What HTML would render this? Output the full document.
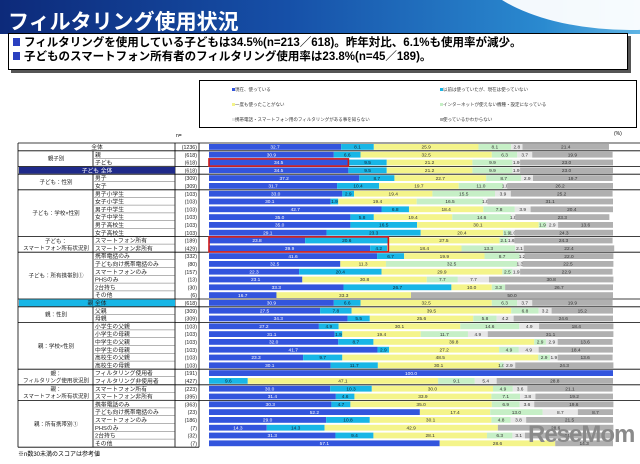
<!DOCTYPE html>
<html><head><meta charset="utf-8">
<style>
body{margin:0;width:640px;height:459px;overflow:hidden;background:#fff;font-family:"Liberation Sans","Noto Sans CJK JP",sans-serif;position:relative}
.abs{position:absolute}
</style></head><body>
<div class="abs" style="left:0;top:0;width:640px;height:34px;background:linear-gradient(90deg,#0d2a7a 0%,#1650a8 45%,#2a8ad0 85%,#5fb4e4 100%);overflow:hidden">
  <div class="abs" style="left:470px;top:-120px;width:320px;height:150px;border-radius:50%;background:#fff;opacity:.95"></div>
  <div class="abs" style="left:8px;top:6px;color:#fff;font-size:21px;font-weight:bold;letter-spacing:0px">フィルタリング使用状況</div>
</div>
<div class="abs" style="left:8px;top:33px;width:618px;height:33px;border:1px solid #000;box-shadow:3px 3px 0 #555;background:#fff;font-size:11.5px;font-weight:bold;line-height:14px;padding-top:2px">
  <div style="padding-left:4px"><span style="display:inline-block;width:7px;height:8px;background:#2a40c0;margin-right:4px"></span>フィルタリングを使用している子どもは34.5%(n=213／618)。昨年対比、6.1%も使用率が減少。</div>
  <div style="padding-left:4px"><span style="display:inline-block;width:7px;height:8px;background:#2a40c0;margin-right:4px"></span>子どものスマートフォン所有者のフィルタリング使用率は23.8%(n=45／189)。</div>
</div>
<div class="abs" style="left:199px;top:80px;width:436px;height:46px;border:1px solid #000;font-size:4.5px;color:#333">
  <div class="abs" style="left:32px;top:6px"><span style="display:inline-block;width:3px;height:3px;background:#3355dd"></span>現在、使っている</div>
  <div class="abs" style="left:240px;top:6px"><span style="display:inline-block;width:3px;height:3px;background:#18b6e6"></span>以前は使っていたが、現在は使っていない</div>
  <div class="abs" style="left:32px;top:21px"><span style="display:inline-block;width:3px;height:3px;background:#f4f48a"></span>一度も使ったことがない</div>
  <div class="abs" style="left:240px;top:21px"><span style="display:inline-block;width:3px;height:3px;background:#c6efc6"></span>インターネットが使えない機種・設定になっている</div>
  <div class="abs" style="left:32px;top:36px"><span style="display:inline-block;width:3px;height:3px;background:#e6e6e6"></span>携帯電話・スマートフォン用のフィルタリングがある事を知らない</div>
  <div class="abs" style="left:240px;top:36px"><span style="display:inline-block;width:3px;height:3px;background:#b0b0b0"></span>使っているかわからない</div>
</div>
<div class="abs" style="left:176px;top:133px;font-size:5px">n=</div>
<div class="abs" style="left:614px;top:131px;font-size:5px">(%)</div>
<div id="chart" class="abs" style="left:0;top:0;width:640px;height:459px"></div>
<div class="abs" style="left:18px;top:449px;font-size:6px">※n数30未満のスコアは参考値</div>
<div class="abs" style="left:528px;top:421px;font-size:24px;font-weight:bold;color:#8a8a8a;letter-spacing:-1px">ReseMom</div>
<script>
const labels=["全体","親","子ども","子ども 全体","男子","女子","男子小学生","女子小学生","男子中学生","女子中学生","男子高校生","女子高校生","スマートフォン所有","スマートフォン非所有","携帯電話のみ","子ども向け携帯電話のみ","スマートフォンのみ","PHSのみ","2台持ち","その他","親 全体","父親","母親","小学生の父親","小学生の母親","中学生の父親","中学生の母親","高校生の父親","高校生の母親","フィルタリング使用者","フィルタリング非使用者","スマートフォン所有","スマートフォン非所有","携帯電話のみ","子ども向け携帯電話のみ","スマートフォンのみ","PHSのみ","2台持ち","その他"];
const nValues=[1236,618,618,618,309,309,103,103,103,103,103,103,189,429,332,80,157,13,30,6,618,309,309,103,103,103,103,103,103,191,427,223,395,363,23,186,7,32,7];
const usingNow=[32.7,30.9,34.5,34.5,37.2,31.7,33.0,30.1,42.7,35.0,35.0,29.1,23.8,39.9,41.6,32.5,22.3,23.1,33.3,16.7,30.9,27.5,34.3,27.2,31.1,32.0,41.7,23.3,30.1,100,0,30.0,31.4,30.3,52.2,29.0,14.3,31.3,57.1];
const usedBefore=[8.1,6.6,9.5,9.5,8.7,10.4,2.9,1.9,6.8,5.8,16.5,23.3,20.6,4.2,6.7,0,20.4,0,26.7,0,6.6,7.8,5.5,4.9,1.9,8.7,2.9,9.7,11.7,0,9.6,10.3,4.6,4.7,0,10.8,14.3,9.4,0];
const neverUsed=[25.9,32.5,21.2,21.2,22.7,19.7,19.4,19.4,18.4,19.4,30.1,20.4,27.5,18.4,19.9,11.3,29.9,30.8,10.0,33.3,32.5,39.5,25.6,30.1,19.4,39.8,27.2,48.5,30.1,0,47.1,30.0,33.9,35.0,17.4,30.1,42.9,28.1,28.6];
const noInternet=[8.1,6.3,9.9,9.9,8.7,11.0,15.5,16.5,7.8,14.6,1.9,1.9,2.1,13.3,8.7,32.5,2.5,7.7,3.3,0,6.3,6.8,5.8,14.6,11.7,2.9,4.9,2.9,1.0,0,9.1,4.9,7.1,6.9,13.0,4.8,0,6.3,0];
const notAware=[2.8,3.7,1.9,1.9,2.9,1.0,3.9,1.0,3.9,1.0,2.9,1.0,1.6,2.1,1.2,1.3,1.9,7.7,0,0,3.7,3.2,4.2,4.9,4.9,2.9,4.9,1.9,2.9,0,5.4,3.6,3.8,3.6,8.7,3.8,0,3.1,0];
const dontKnow=[21.4,19.9,23.0,23.0,19.7,26.2,25.2,31.1,20.4,23.3,13.6,24.3,24.3,22.4,22.0,22.5,22.9,30.8,26.7,50.0,19.9,15.2,24.6,18.4,31.1,13.6,18.4,13.6,24.3,0,28.8,21.1,19.2,19.6,8.7,21.5,28.6,21.9,14.3];
const groups=[[1,2,"親子別"],[4,5,"子ども：性別"],[6,11,"子ども：学校×性別"],[12,13,"子ども：\nスマートフォン所有状況別"],[14,19,"子ども：所有携帯別①"],[21,22,"親：性別"],[23,28,"親：学校×性別"],[29,30,"親：\nフィルタリング使用状況別"],[31,32,"親：\nスマートフォン所有状況別"],[33,38,"親：所有携帯別①"]];
const series=[usingNow,usedBefore,neverUsed,noInternet,notAware,dontKnow];
const colors=["#3355dd","#18b6e6","#f4f48a","#c6efc6","#e6e6e6","#b0b0b0"];
const txtCol=["#fff","#123","#333","#333","#333","#333"];
const X0=209,W=404,Y0=143,RH=7.8;
const xs=v=>v/100*W;
const ys=i=>Y0+i*RH;
const NS="http://www.w3.org/2000/svg";
const svg=document.createElementNS(NS,"svg");
svg.setAttribute("width","640");svg.setAttribute("height","459");


document.getElementById("chart").appendChild(svg);
function mk(t,a){const e=document.createElementNS(NS,t);for(const k in a)e.setAttribute(k,a[k]);svg.appendChild(e);return e;}
// table lines
const tb=Y0+labels.length*RH;
mk("line",{x1:18,y1:Y0,x2:18,y2:tb,stroke:"#000","stroke-width":0.8});
mk("line",{x1:175,y1:Y0,x2:175,y2:tb,stroke:"#000","stroke-width":0.8});
mk("line",{x1:199,y1:Y0,x2:199,y2:tb,stroke:"#000","stroke-width":0.8});
mk("line",{x1:18,y1:tb,x2:199,y2:tb,stroke:"#000","stroke-width":0.8});
// header rows
const h1=mk("rect",{x:19,y:ys(3)+0.5,width:156,height:RH-1,fill:"#1f2a8a"});

const h2=mk("rect",{x:19,y:ys(20)+0.5,width:156,height:RH-1,fill:"#18b6e6"});

const sepRows=[0,1,3,4,6,12,14,20,21,23,29,31,33];
sepRows.forEach(r=>{const l=mk("line",{x1:18,y1:ys(r),x2:640,y2:ys(r),stroke:"#000","stroke-width":0.8});});
groups.forEach(g=>{
  mk("line",{x1:93,y1:ys(g[0]),x2:93,y2:ys(g[1]+1),stroke:"#000","stroke-width":0.8});
  const lines=g[2].split("\n");const cy=(ys(g[0])+ys(g[1]+1))/2;
  lines.forEach((s,k)=>{const t=mk("text",{x:56,y:cy+2+(k-(lines.length-1)/2)*7,"font-size":5.5,"text-anchor":"middle",fill:"#222"});t.textContent=s;
  
  });
});
labels.forEach((lab,i)=>{
  const y=ys(i);
  const full=(i===0||i===3||i===20);
  if(!full){mk("line",{x1:94,y1:y+RH-0.3,x2:175,y2:y+RH-0.3,stroke:"#444","stroke-width":0.4});}
  const t=mk("text",{x:full?97:95,y:y+6,"font-size":5.8,"text-anchor":full?"middle":"start",fill:(i===3)?"#fff":"#222"});
  t.textContent=lab;
  
  
  const n=mk("text",{x:197,y:y+6,"font-size":5.3,"text-anchor":"end",fill:"#222"});
  n.textContent="("+nValues[i]+")";
  
  
  let acc=0;
  series.forEach((s,k)=>{
    const v=s[i];if(v<=0)return;
    const r=mk("rect",{x:X0+xs(acc),y:y+1,width:xs(v),height:RH-2,fill:colors[k]});
    
    
    if(v>=1){const tt=mk("text",{x:X0+xs(acc+v/2),y:y+5.6,"font-size":4.8,"text-anchor":"middle",fill:txtCol[k]});tt.textContent=v.toFixed(1);
    
    }
    acc+=v;
  });
});
const rb1=mk("rect",{x:X0,y:ys(2)+0.3,width:xs(usingNow[2]),height:RH-0.6,fill:"none",stroke:"#d01818","stroke-width":1.6});

const rb2=mk("rect",{x:X0,y:ys(12)+0.3,width:xs(usingNow[12]+usedBefore[12]),height:2*RH-0.6,fill:"none",stroke:"#d01818","stroke-width":1.6});

</script>
</body></html>
